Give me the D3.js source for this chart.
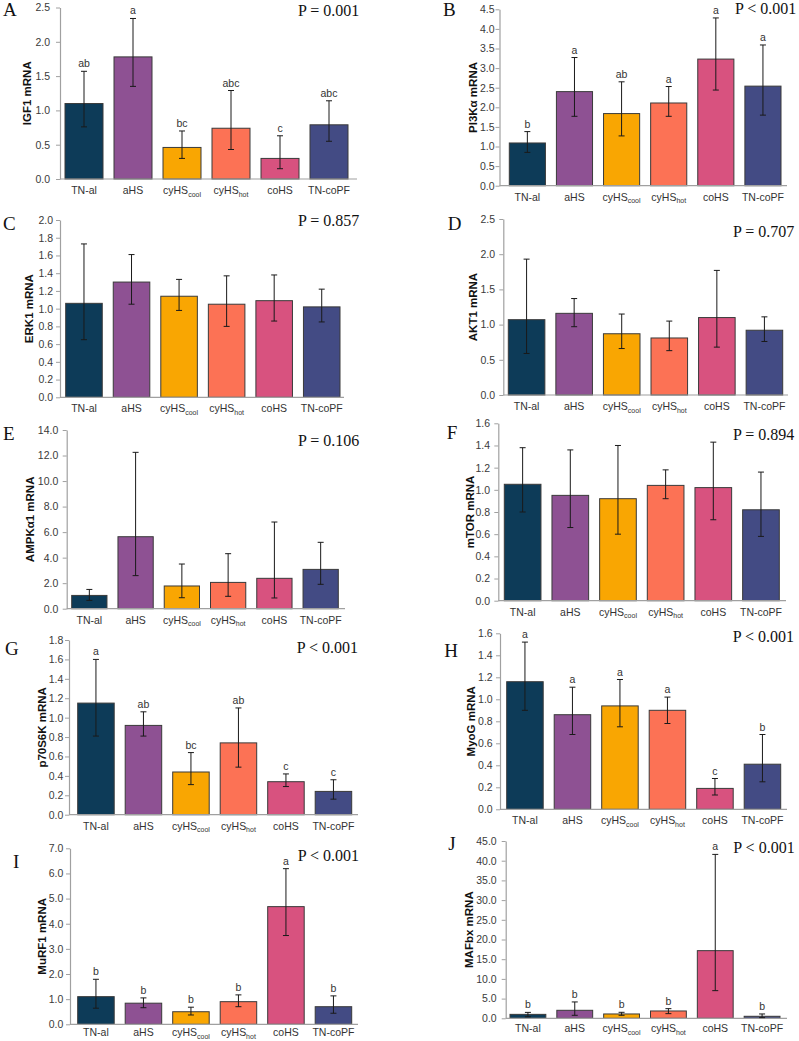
<!DOCTYPE html>
<html><head><meta charset="utf-8">
<script src="https://cdn.jsdelivr.net/npm/d3@7"></script>
<style>body{margin:0;background:#fff}svg{display:block}</style>
</head><body>
<svg id="c" width="799" height="1041"></svg>
<script>
// ---- data ----
const categories = ["TN-al","aHS","cyHScool","cyHShot","coHS","TN-coPF"];
const barColors = ["#0d3b58","#8e5193","#f9a602","#fc7255","#d8527f","#434b84"];

const igf1Mean  = [1.10,1.78,0.46,0.74,0.30,0.79];
const igf1Upper = [1.57,2.34,0.70,1.29,0.63,1.14];
const igf1Lower = [0.76,1.35,0.30,0.43,0.15,0.55];
const igf1Letters = ["ab","a","bc","abc","c","abc"];

const pi3kMean  = [1.09,2.40,1.84,2.11,3.23,2.54];
const pi3kUpper = [1.38,3.27,2.65,2.53,4.28,3.59];
const pi3kLower = [0.85,1.77,1.27,1.77,2.44,1.80];
const pi3kLetters = ["b","a","ab","a","a","a"];

const erk1Mean  = [1.06,1.30,1.14,1.05,1.09,1.02];
const erk1Upper = [1.73,1.61,1.33,1.37,1.38,1.22];
const erk1Lower = [0.65,1.05,0.98,0.80,0.86,0.85];

const akt1Mean  = [1.07,1.16,0.87,0.81,1.10,0.92];
const akt1Upper = [1.93,1.37,1.15,1.05,1.77,1.11];
const akt1Lower = [0.59,0.97,0.66,0.63,0.68,0.76];

const ampkMean  = [1.04,5.64,1.78,2.06,2.38,3.08];
const ampkUpper = [1.51,12.25,3.50,4.31,6.79,5.20];
const ampkLower = [0.65,2.59,0.86,0.97,0.84,1.91];

const mtorMean  = [1.05,0.95,0.92,1.04,1.02,0.82];
const mtorUpper = [1.38,1.36,1.40,1.18,1.43,1.16];
const mtorLower = [0.80,0.66,0.60,0.92,0.73,0.58];

const p70Mean  = [1.15,0.92,0.44,0.74,0.34,0.24];
const p70Upper = [1.60,1.06,0.64,1.10,0.42,0.36];
const p70Lower = [0.81,0.81,0.31,0.49,0.29,0.16];
const p70Letters = ["a","ab","bc","ab","c","c"];

const myogMean  = [1.16,0.86,0.94,0.90,0.19,0.41];
const myogUpper = [1.52,1.11,1.18,1.02,0.28,0.68];
const myogLower = [0.90,0.68,0.75,0.78,0.13,0.25];
const myogLetters = ["a","a","a","a","c","b"];

const murfMean  = [1.10,0.84,0.50,0.90,4.68,0.70];
const murfUpper = [1.79,1.05,0.68,1.17,6.19,1.13];
const murfLower = [0.64,0.66,0.37,0.70,3.53,0.44];
const murfLetters = ["b","b","b","b","a","b"];

const mafMean  = [1.00,2.03,1.10,1.86,17.17,0.51];
const mafUpper = [1.50,4.15,1.52,2.45,41.6,1.10];
const mafLower = [0.40,0.76,0.76,1.18,7.02,0.17];
const mafLetters = ["b","b","b","b","a","b"];

const panelLetters = ["A","B","C","D","E","F","G","H","I","J"];
const yLabels = ["IGF1 mRNA","PI3Kα mRNA","ERK1 mRNA","AKT1 mRNA","AMPKα1 mRNA","mTOR mRNA","p70S6K mRNA","MyoG mRNA","MuRF1 mRNA","MAFbx mRNA"];
const pTexts = ["P = 0.001","P < 0.001","P = 0.857","P = 0.707","P = 0.106","P = 0.894","P < 0.001","P < 0.001","P < 0.001","P < 0.001"];
const yMaxes = [2.5,4.5,2.0,2.5,14,1.6,1.8,1.6,7,45];
const ySteps = [0.5,0.5,0.2,0.5,2,0.2,0.2,0.2,1,5];

const series = [
  [igf1Mean,igf1Upper,igf1Lower,igf1Letters],
  [pi3kMean,pi3kUpper,pi3kLower,pi3kLetters],
  [erk1Mean,erk1Upper,erk1Lower,null],
  [akt1Mean,akt1Upper,akt1Lower,null],
  [ampkMean,ampkUpper,ampkLower,null],
  [mtorMean,mtorUpper,mtorLower,null],
  [p70Mean,p70Upper,p70Lower,p70Letters],
  [myogMean,myogUpper,myogLower,myogLetters],
  [murfMean,murfUpper,murfLower,murfLetters],
  [mafMean,mafUpper,mafLower,mafLetters]
];

// ---- layout (pixel geometry per panel) ----
const layout = [
  {ax:60,   y0:179,   yt:7.5,  bl:65,    br:348,   ae:357, lx:27,   te:50,   L:[3,16],     P:[298,16],   xl:15},
  {ax:499.5,y0:185.7, yt:9.3,  bl:509.3, br:781,   ae:787, lx:473,  te:497,  L:[443,16],   P:[735,14],   xl:15},
  {ax:60,   y0:397.3, yt:220,  bl:65.7,  br:340,   ae:344, lx:29,   te:53,   L:[3,230],    P:[298,225.7],xl:15},
  {ax:503.3,y0:395,   yt:219,  bl:508.3, br:782.7, ae:788, lx:472.7,te:495,  L:[447.7,230],P:[733,236.7],xl:15},
  {ax:66.7, y0:608.7, yt:430,  bl:71.7,  br:338.3, ae:345, lx:30,   te:58.3, L:[3,440],    P:[298,445.7],xl:15},
  {ax:498.3,y0:600.7, yt:423.3,bl:504.3, br:779.3, ae:786, lx:470,  te:490,  L:[446.7,439.3],P:[733,440],xl:15},
  {ax:69,   y0:814.7, yt:640,  bl:77.7,  br:351.7, ae:358, lx:42.3, te:63.3, L:[5,655],    P:[296.7,653.3],xl:15},
  {ax:500,  y0:809.3, yt:633.3,bl:506.7, br:780.7, ae:787, lx:470.7,te:492.7,L:[444.3,656.7],P:[732.7,641.7],xl:15},
  {ax:70,   y0:1024.3,yt:848.3,bl:77.7,  br:351.7, ae:358, lx:41.7, te:63.3, L:[13,868.3], P:[297.7,860.7],xl:12},
  {ax:505.7,y0:1018.3,yt:841,  bl:510,   br:780,   ae:787, lx:469.3,te:496.7,L:[448.3,850],P:[733.3,853.3],xl:14}
];

const svg = d3.select("#c");
const gap = 11;
const sans = "Arial, 'Liberation Sans', sans-serif";
const serif = "'Times New Roman', 'Liberation Serif', serif";

layout.forEach((lay, i) => {
  const [mean, upper, lower, letters] = series[i];
  const g = svg.append("g");
  const w = (lay.br - lay.bl - 5*gap)/6;
  const step = w + gap;
  const x = d3.scaleBand().domain(categories)
    .range([lay.bl - gap/2, lay.br + gap/2])
    .paddingInner(gap/step).paddingOuter((gap/2)/step);
  const y = d3.scaleLinear().domain([0, yMaxes[i]]).range([lay.y0, lay.yt]);

  const ticks = d3.range(0, yMaxes[i] + ySteps[i]/2, ySteps[i]);
  const tickSize = 4;
  const yAxis = d3.axisLeft(y).tickValues(ticks).tickFormat(d3.format(".1f"))
    .tickSize(tickSize).tickSizeOuter(0).tickPadding(Math.max(1, lay.ax - tickSize - lay.te));
  const ya = g.append("g").attr("transform", `translate(${lay.ax},0)`).call(yAxis);
  ya.select(".domain").attr("stroke", "#a0a0a0").attr("stroke-width", 1.2);
  ya.selectAll(".tick line").attr("stroke", "#a0a0a0");
  ya.selectAll(".tick text").attr("fill", "#3a3a3a").style("font-family", sans).style("font-size", "10.5px");

  // bars
  g.selectAll("rect.bar").data(categories).join("rect")
    .attr("x", d => x(d)).attr("width", x.bandwidth())
    .attr("y", (d, j) => y(mean[j])).attr("height", (d, j) => y(0) - y(mean[j]))
    .attr("fill", (d, j) => barColors[j]).attr("stroke", "#3a3a3a").attr("stroke-width", 1);

  // x baseline
  g.append("line").attr("x1", lay.ax).attr("x2", lay.ae).attr("y1", y(0)).attr("y2", y(0))
    .attr("stroke", "#a0a0a0").attr("stroke-width", 1.2);

  // error bars
  const cap = 3;
  const eb = g.selectAll("g.err").data(categories).join("g");
  eb.append("line").attr("x1", d => x(d) + x.bandwidth()/2).attr("x2", d => x(d) + x.bandwidth()/2)
    .attr("y1", (d, j) => y(upper[j])).attr("y2", (d, j) => y(lower[j]))
    .attr("stroke", "#1a1a1a").attr("stroke-width", 1);
  [upper, lower].forEach(arr => {
    eb.append("line").attr("x1", d => x(d) + x.bandwidth()/2 - cap).attr("x2", d => x(d) + x.bandwidth()/2 + cap)
      .attr("y1", (d, j) => y(arr[j])).attr("y2", (d, j) => y(arr[j]))
      .attr("stroke", "#1a1a1a").attr("stroke-width", 1);
  });

  // significance letters
  if (letters) {
    g.selectAll("text.sig").data(categories).join("text")
      .attr("x", d => x(d) + x.bandwidth()/2).attr("y", (d, j) => y(upper[j]) - 4)
      .attr("text-anchor", "middle").attr("fill", "#333")
      .style("font-family", sans).style("font-size", "10.5px")
      .text((d, j) => letters[j]);
  }

  // x labels via axis
  const xAxis = d3.axisBottom(x).tickSize(0).tickPadding(0);
  const xa = g.append("g").attr("transform", `translate(0,${y(0)})`).call(xAxis);
  xa.select(".domain").remove();
  xa.selectAll(".tick text").each(function(d) {
    const t = d3.select(this).text("").attr("y", lay.xl).attr("dy", null)
      .attr("fill", "#333").style("font-family", sans).style("font-size", "10.5px");
    const m = d.match(/^(cyHS)(cool|hot)$/);
    if (m) {
      t.append("tspan").text(m[1]);
      t.append("tspan").text(m[2]).attr("dy", 2.5).style("font-size", "7px");
    } else t.text(d);
  });

  // y label
  const cy = (lay.y0 + lay.yt)/2;
  g.append("text").attr("transform", `translate(${lay.lx},${cy}) rotate(-90)`)
    .attr("text-anchor", "middle").attr("dominant-baseline", "central")
    .style("font-family", sans).style("font-weight", "bold").style("font-size", "11.5px")
    .attr("fill", "#111").text(yLabels[i]);

  // panel letter
  g.append("text").attr("x", lay.L[0]).attr("y", lay.L[1])
    .style("font-family", serif).style("font-size", "19px")
    .attr("fill", "#111").text(panelLetters[i]);

  // P value
  g.append("text").attr("x", lay.P[0]).attr("y", lay.P[1])
    .style("font-family", serif).style("font-size", "16px")
    .attr("fill", "#111").text(pTexts[i]);
});
</script>
</body></html>
